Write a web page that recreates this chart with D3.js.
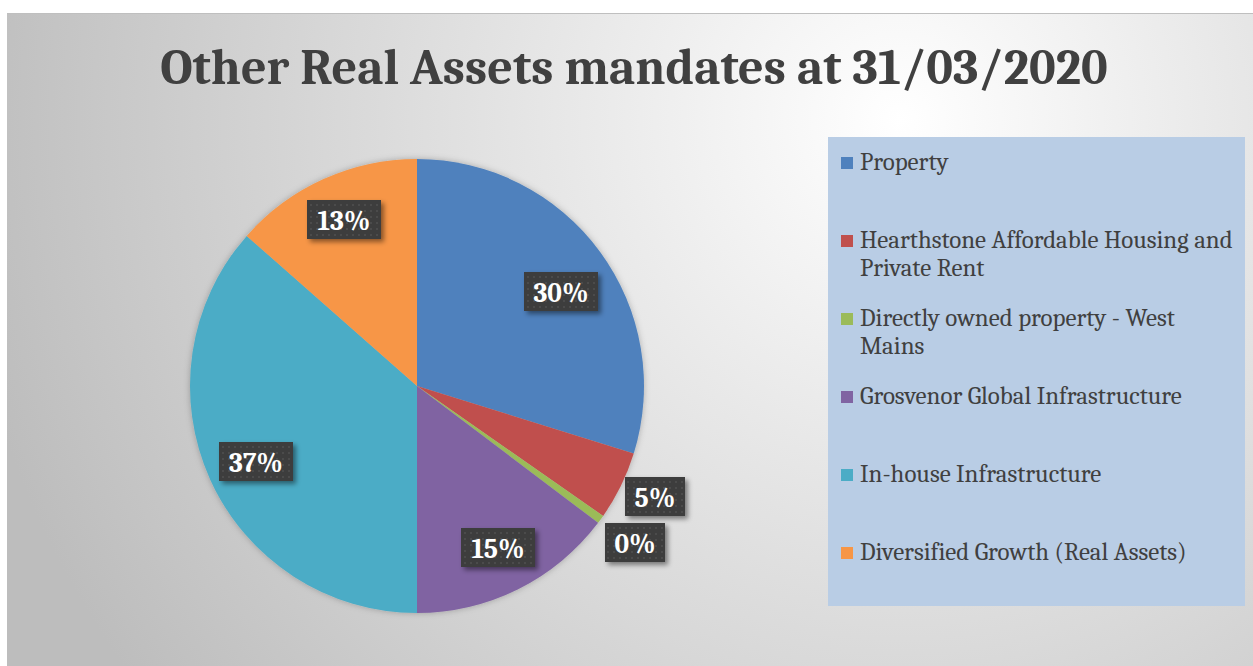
<!DOCTYPE html>
<html>
<head>
<meta charset="utf-8">
<script src="https://cdn.jsdelivr.net/npm/d3@7"></script>
<style>
  body { margin: 0; background: #fff; }
  svg { display: block; }
</style>
</head>
<body>
<div id="main"></div>
<script>
var categories = ['Property', 'Hearthstone Affordable Housing and Private Rent',
  'Directly owned property - West Mains', 'Grosvenor Global Infrastructure',
  'In-house Infrastructure', 'Diversified Growth (Real Assets)'];
var legendLines = [['Property'], ['Hearthstone Affordable Housing and', 'Private Rent'],
  ['Directly owned property - West', 'Mains'], ['Grosvenor Global Infrastructure'],
  ['In-house Infrastructure'], ['Diversified Growth (Real Assets)']];
var values = [29.8, 4.9, 0.6, 14.7, 36.5, 13.5];
var colors = ['#4f81bd', '#c0504d', '#9bbb59', '#8064a2', '#4bacc6', '#f79646'];
var labelText = ['30%', '5%', '0%', '15%', '37%', '13%'];
// label centres
var labelPos = [[561, 292], [655, 497], [635, 543], [498, 548], [256, 462], [344, 220]];

var width = 1253, height = 666;
var serif = 'Cambria, "DejaVu Serif", "Liberation Serif", serif';

var svg = d3.select('#main').append('svg')
  .attr('width', width)
  .attr('height', height);

var defs = svg.append('defs');
var bg = defs.append('radialGradient').attr('id', 'bg')
  .attr('gradientUnits', 'userSpaceOnUse')
  .attr('cx', 900).attr('cy', 120).attr('r', 950);
bg.append('stop').attr('offset', '0').attr('stop-color', '#ffffff');
bg.append('stop').attr('offset', '1').attr('stop-color', '#bdbdbd');

var pat = defs.append('pattern').attr('id', 'dots')
  .attr('patternUnits', 'userSpaceOnUse')
  .attr('width', 6).attr('height', 6);
pat.append('rect').attr('width', 6).attr('height', 6).attr('fill', '#3d3d3d');
pat.append('rect').attr('x', 2).attr('y', 2).attr('width', 2).attr('height', 2).attr('fill', '#4b4b4b');

var shadow = defs.append('filter').attr('id', 'shadow')
  .attr('x', '-20%').attr('y', '-20%').attr('width', '150%').attr('height', '160%');
shadow.append('feDropShadow').attr('dx', 3).attr('dy', 3).attr('stdDeviation', 2.5)
  .attr('flood-color', '#000').attr('flood-opacity', 0.45);

var pieShadow = defs.append('filter').attr('id', 'pieShadow')
  .attr('x', '-10%').attr('y', '-10%').attr('width', '120%').attr('height', '120%');
pieShadow.append('feDropShadow').attr('dx', 0).attr('dy', 0).attr('stdDeviation', 3)
  .attr('flood-color', '#000').attr('flood-opacity', 0.25);

svg.append('rect')
  .attr('x', 7).attr('y', 13)
  .attr('width', width - 7).attr('height', height - 13)
  .attr('fill', 'url(#bg)');
svg.append('line')
  .attr('x1', 7).attr('x2', width).attr('y1', 13.5).attr('y2', 13.5)
  .attr('stroke', '#bfbfbf');

var title = svg.append('text')
  .attr('x', 634).attr('y', 84)
  .attr('text-anchor', 'middle')
  .attr('font-family', serif)
  .attr('font-weight', 'bold')
  .attr('font-size', 48)
  .attr('fill', '#404040')
  .text('Other Real Assets mandates at 31/03/2020');
var tw = title.node().getComputedTextLength();
title.attr('font-size', 48 * 948 / tw);

var cx = 417, cy = 386, r = 227;
var pie = d3.pie().sort(null).value(function(d) { return d; });
var arc = d3.arc().innerRadius(0).outerRadius(r);
var arcs = pie(values);

svg.append('g')
  .attr('transform', 'translate(' + cx + ',' + cy + ')')
  .attr('filter', 'url(#pieShadow)')
  .selectAll('path')
  .data(arcs)
  .enter()
  .append('path')
  .attr('d', arc)
  .attr('fill', function(d, i) { return colors[i]; });

var labels = svg.selectAll('g.lbl')
  .data(labelText)
  .enter()
  .append('g')
  .attr('class', 'lbl')
  .attr('transform', function(d, i) {
    return 'translate(' + labelPos[i][0] + ',' + labelPos[i][1] + ')';
  });
labels.append('rect')
  .attr('x', function(d) { return d.length > 2 ? -37 : -30; })
  .attr('y', -20)
  .attr('width', function(d) { return d.length > 2 ? 74 : 60; })
  .attr('height', 39)
  .attr('fill', 'url(#dots)')
  .attr('filter', 'url(#shadow)');
var lblText = labels.append('text')
  .attr('text-anchor', 'middle')
  .attr('y', 10)
  .attr('font-family', serif)
  .attr('font-weight', 'bold')
  .attr('font-size', 24)
  .attr('fill', '#fff')
  .text(function(d) { return d; });
var lw = lblText.node().getComputedTextLength();
lblText.attr('font-size', 24 * 55 / lw);

// legend
svg.append('rect')
  .attr('x', 828).attr('y', 137)
  .attr('width', 417).attr('height', 469)
  .attr('fill', '#b9cde5');

var legend = svg.selectAll('g.leg')
  .data(legendLines)
  .enter()
  .append('g')
  .attr('class', 'leg')
  .attr('transform', function(d, i) { return 'translate(841,' + (163 + i * 78) + ')'; });
legend.append('rect')
  .attr('x', 0).attr('y', -6)
  .attr('width', 12).attr('height', 12)
  .attr('fill', function(d, i) { return colors[i]; });
var legText = legend.append('text')
  .attr('font-family', serif)
  .attr('font-size', 21)
  .attr('fill', '#404040');
legText.selectAll('tspan')
  .data(function(d) { return d; })
  .enter()
  .append('tspan')
  .attr('x', 19)
  .attr('y', function(d, j) { return 7 + j * 28; })
  .text(function(d) { return d; });
var hw = legText.filter(function(d, i) { return i === 1; })
  .select('tspan').node().getComputedTextLength();
legText.attr('font-size', 21 * 373 / hw);
</script>
</body>
</html>
